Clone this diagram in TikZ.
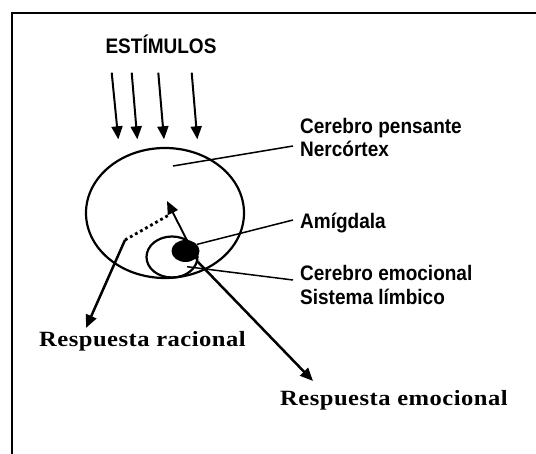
\documentclass[tikz,border=0pt]{standalone}
\usepackage{fontspec}
\setmainfont{Liberation Serif}
\setsansfont{Liberation Sans}
\newfontfamily\respfont[LetterSpace=2]{Liberation Serif}
\usepackage{tikz}
\usetikzlibrary{arrows.meta,positioning,shapes.geometric}
\newcommand{\narrowtxt}[1]{\scalebox{0.905}[1]{#1}}
\newcommand{\widetxt}[1]{\scalebox{1.13}[1]{#1}}

\begin{document}
\begin{tikzpicture}[x=1pt,y=-1pt,>={Triangle[length=13pt,width=11pt]},
  lbl/.style={font=\sffamily\bfseries\fontsize{21}{25}\selectfont,inner sep=0pt,anchor=base west},
  resplbl/.style={font=\respfont\bfseries\fontsize{21.75}{26}\selectfont,inner sep=0pt,anchor=base west},
  outline/.style={draw,ellipse,line width=2.2pt,inner sep=0pt},
  lead/.style={line width=1.5pt},
  stim/.style={->,line width=2pt},
  resp/.style={->,line width=2.5pt}]
\useasboundingbox (0,0) rectangle (536,454);
\draw[line width=1.3pt] (12,454) |- (536,13);

% brains
\node[outline,minimum width=158pt,minimum height=130pt] (neo) at (165,213) {};
\node[outline,minimum width=51pt,minimum height=41pt] (limb) at (172,257) {};
\node[fill,ellipse,inner sep=0pt,minimum width=28pt,minimum height=22pt] (amyg) at (185.5,251) {};

% texts
\node[lbl,anchor=base] (estim) at (161,54) {\narrowtxt{ESTÍMULOS}};
\node[lbl] (pens) at (300,133.3) {\narrowtxt{Cerebro pensante}};
\node[lbl] (nerc) at ([yshift=-23.4pt]pens.base west) {\narrowtxt{Nercórtex}};
\node[lbl] (amig) at (300,228.3) {\narrowtxt{Amígdala}};
\node[lbl] (cemo) at (300,281) {\narrowtxt{Cerebro emocional}};
\node[lbl] (slim) at ([yshift=-23.4pt]cemo.base west) {\narrowtxt{Sistema límbico}};
\node[resplbl] (rrac) at (39,346.7) {\widetxt{Respuesta racional}};
\node[resplbl] (remo) at (280,405.7) {\widetxt{Respuesta emocional}};

% stimuli
\coordinate (in1) at (111.7,72.7); \coordinate (out1) at (118.3,139.3);
\coordinate (in2) at (131.7,72.7); \coordinate (out2) at (137.3,139.3);
\coordinate (in3) at (158.3,72.7); \coordinate (out3) at (164,139.3);
\coordinate (in4) at (191.7,72.7); \coordinate (out4) at (197.3,139.3);
\draw[stim] (in1) -- (out1);
\draw[stim] (in2) -- (out2);
\draw[stim] (in3) -- (out3);
\draw[stim] (in4) -- (out4);

% leaders
\coordinate (neoPt) at (173,166);
\coordinate (limbPt) at (187,266.7);
\draw[lead] (neoPt) -- ([xshift=-7pt,yshift=10.7pt]nerc.base west);
\draw[lead] (amyg.30) -- ([xshift=-7pt,yshift=8.3pt]amig.base west);
\draw[lead] (limbPt) -- ([xshift=-7pt,yshift=1pt]cemo.base west);

% responses
\coordinate (racStart) at (125,240);
\coordinate (dotEnd) at (169,215);
\coordinate (racTip) at (86,328);
\coordinate (amyOut) at (198,262);
\coordinate (neoTip) at (167,201);
\coordinate (emoTip) at (313,381);
\draw[line width=2.8pt,dash pattern=on 2.8pt off 3pt] (racStart) -- (dotEnd);
\draw[resp] (racStart) -- (racTip);
\draw[resp,line width=1.9pt] (amyOut) -- (neoTip);
\draw[resp] (amyOut) -- (emoTip);
\end{tikzpicture}
\end{document}
